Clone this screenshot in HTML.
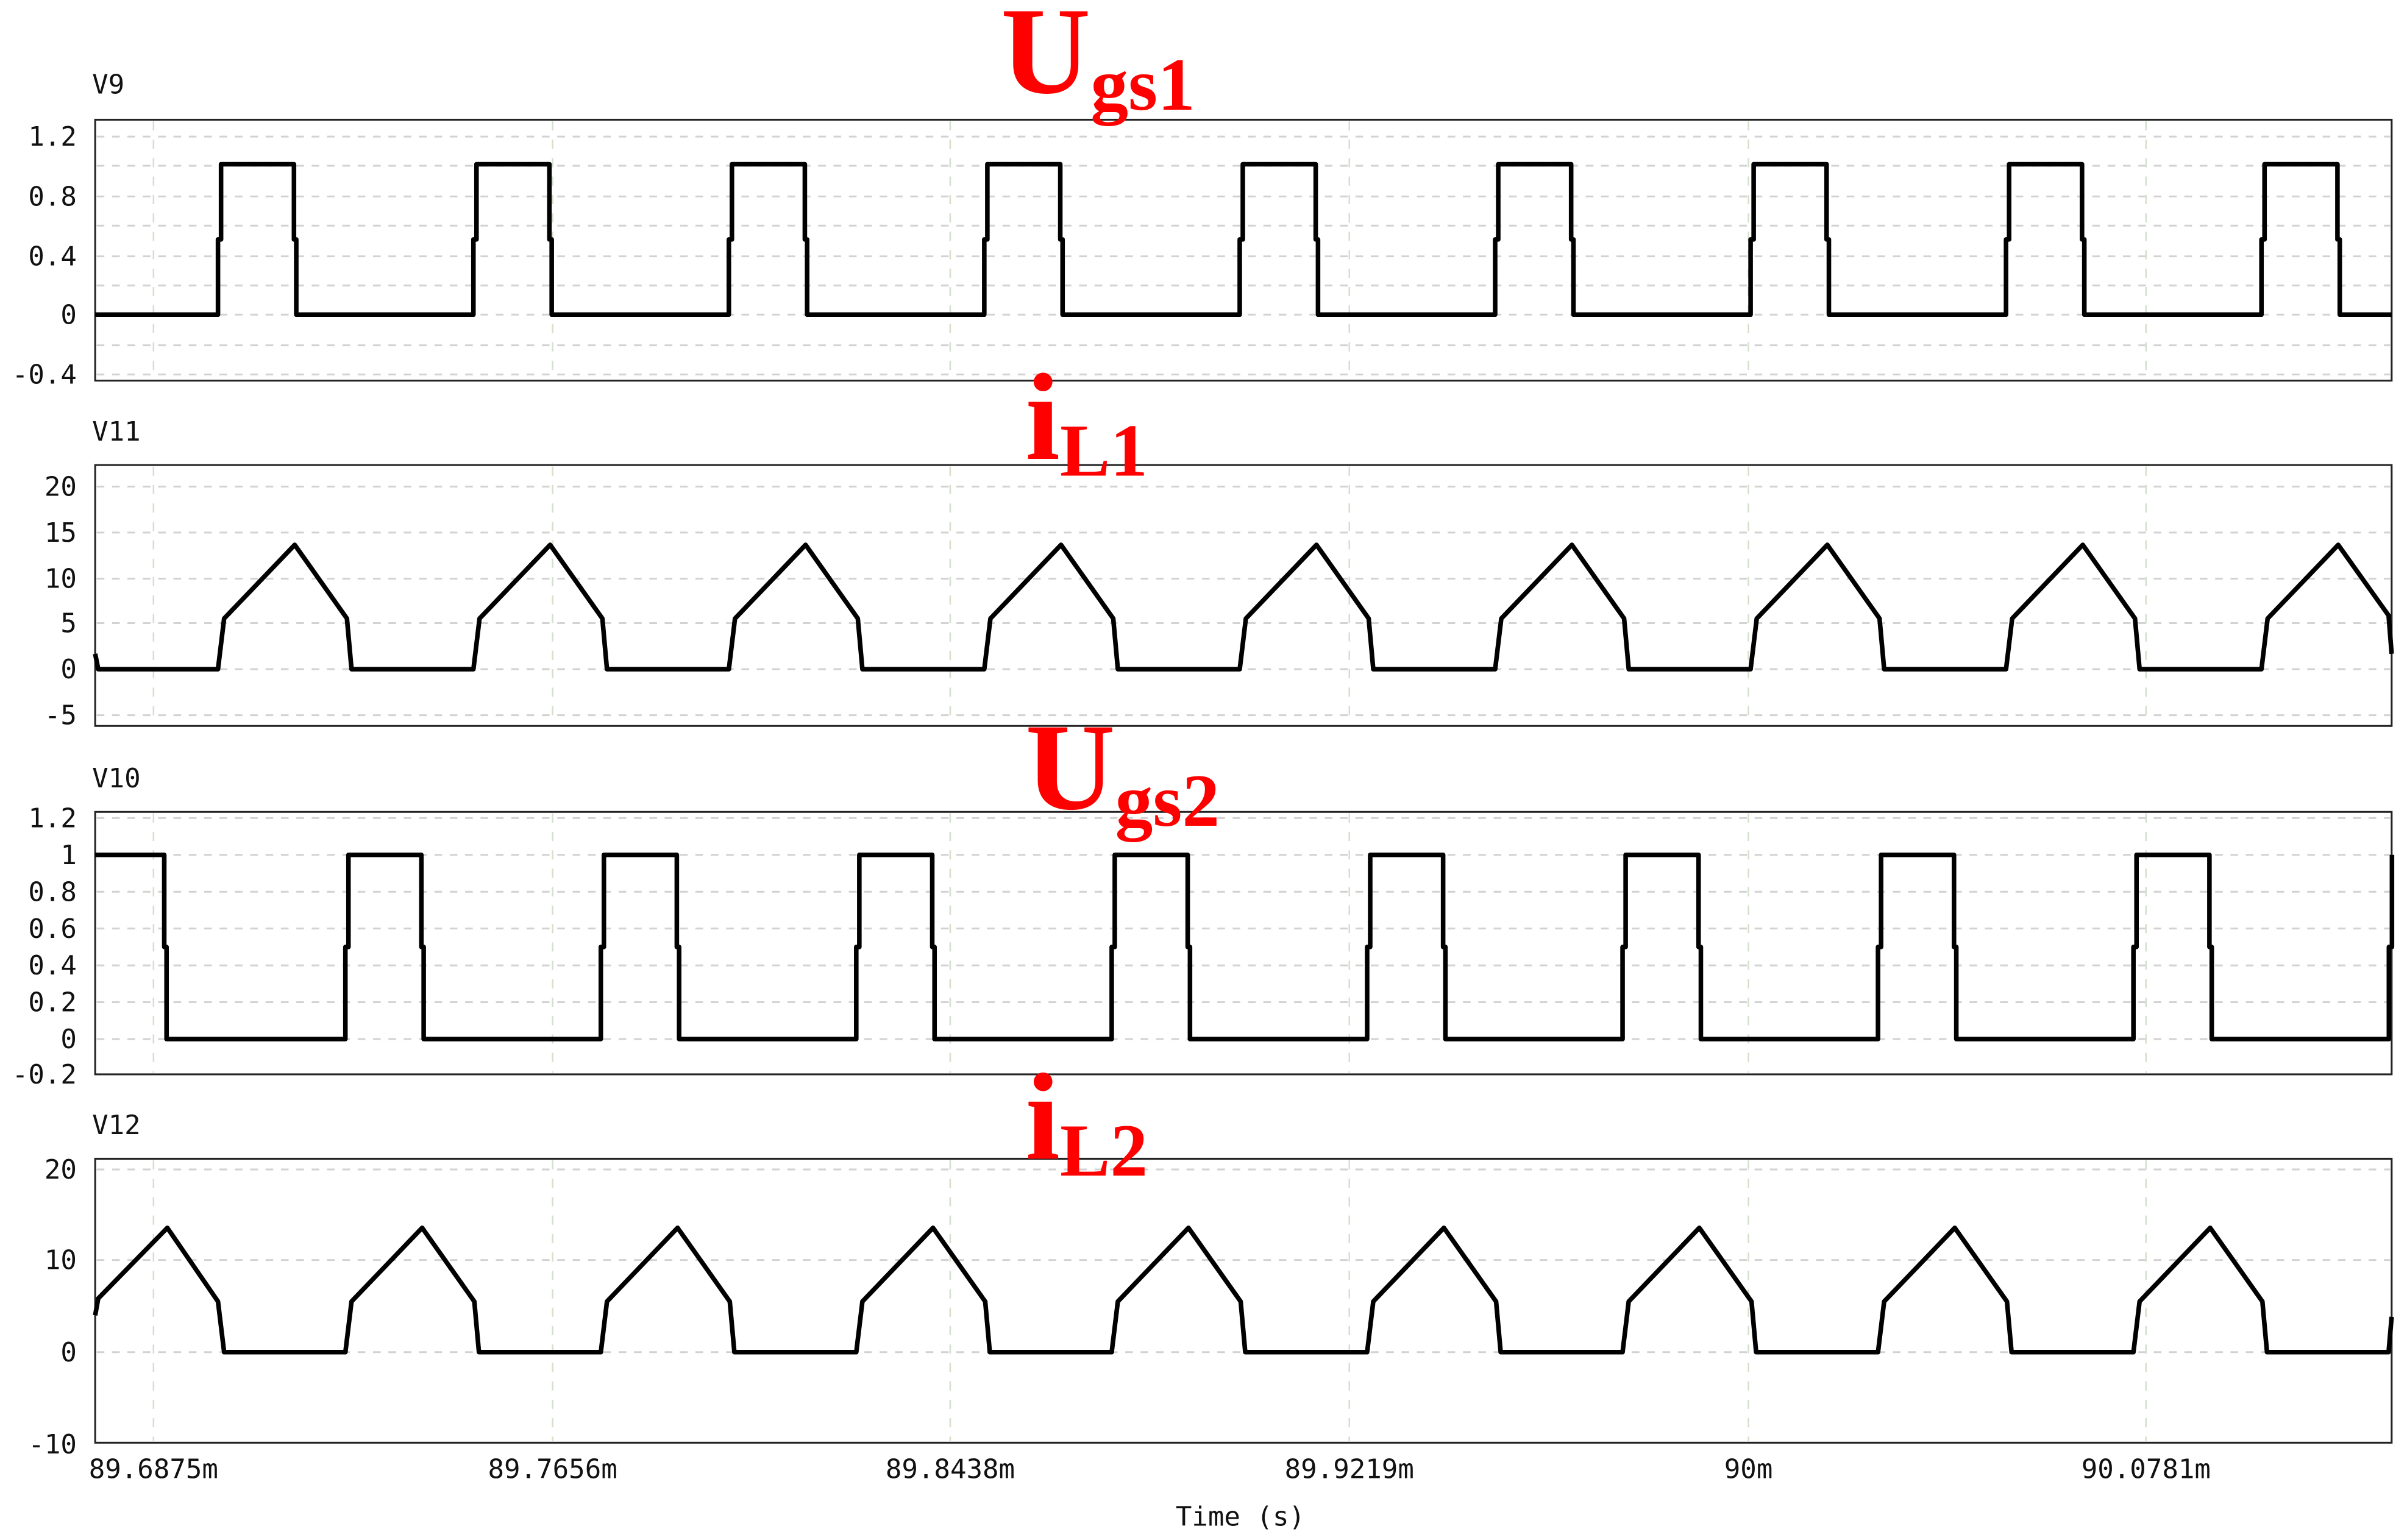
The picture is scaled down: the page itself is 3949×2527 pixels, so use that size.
<!DOCTYPE html>
<html><head><meta charset="utf-8">
<style>
html,body{margin:0;padding:0;background:#fff;}
svg{display:block;}
.ax{font-family:"DejaVu Sans Mono","Liberation Mono",monospace;font-size:17.5px;fill:#111;}
.red{font-family:"Liberation Serif",serif;font-weight:bold;fill:#f00;}
</style></head>
<body>
<svg id="s" width="3949" height="2527" viewBox="0 0 1568 1003.4" preserveAspectRatio="none" xmlns="http://www.w3.org/2000/svg">
<g id="grid"></g>
<g id="frames" fill="none" stroke="#222" stroke-width="1.2">
<rect x="62" y="78" width="1496" height="170"/>
<rect x="62" y="303" width="1496" height="170"/>
<rect x="62" y="529" width="1496" height="171"/>
<rect x="62" y="755" width="1496" height="185"/>
</g>
<g id="waves" fill="none" stroke="#000" stroke-width="3" stroke-linejoin="round"></g>
<g class="ax">
<text x="60" y="61">V9</text>
<text x="60" y="287">V11</text>
<text x="60" y="513">V10</text>
<text x="60" y="739">V12</text>
<g text-anchor="end">
<text x="50" y="95">1.2</text><text x="50" y="134">0.8</text><text x="50" y="173">0.4</text><text x="50" y="211">0</text><text x="50" y="250">-0.4</text>
<text x="50" y="323">20</text><text x="50" y="353">15</text><text x="50" y="383">10</text><text x="50" y="412">5</text><text x="50" y="442">0</text><text x="50" y="472">-5</text>
<text x="50" y="539">1.2</text><text x="50" y="563">1</text><text x="50" y="587">0.8</text><text x="50" y="611">0.6</text><text x="50" y="635">0.4</text><text x="50" y="659">0.2</text><text x="50" y="683">0</text><text x="50" y="706">-0.2</text>
<text x="50" y="768">20</text><text x="50" y="827">10</text><text x="50" y="887">0</text><text x="50" y="947">-10</text>
</g>
<g text-anchor="middle">
<text x="100" y="963">89.6875m</text><text x="360" y="963">89.7656m</text><text x="619" y="963">89.8438m</text><text x="879" y="963">89.9219m</text><text x="1139" y="963">90m</text><text x="1398" y="963">90.0781m</text>
<text x="808" y="994">Time (s)</text>
</g>
</g>
<g class="red">
<text x="652" y="60.4" font-size="81">U<tspan font-size="49" dy="11">gs1</tspan></text>
<text x="668" y="299" font-size="81">i<tspan font-size="49" dy="11">L1</tspan></text>
<text x="668" y="527" font-size="81">U<tspan font-size="49" dy="11">gs2</tspan></text>
<text x="668" y="755" font-size="81">i<tspan font-size="49" dy="11">L2</tspan></text>
</g>
</svg>
<script>
var NS="http://www.w3.org/2000/svg";
function el(p,t,a){var e=document.createElementNS(NS,t);for(var k in a)e.setAttribute(k,a[k]);document.getElementById(p).appendChild(e);}
var xs=[100,360,619,879,1139,1398];
var plots=[[78,248,[89,108,128,147,167,186,205,225,244]],[303,473,[317,347,377,406,436,466]],[529,700,[533,557,581,605,629,653,677]],[755,940,[762,821,881]]];
plots.forEach(function(p){
 p[2].forEach(function(y){el("grid","line",{x1:63,x2:1557,y1:y,y2:y,stroke:"#d2d2d2","stroke-width":1.2,"stroke-dasharray":"5,5"});});
 xs.forEach(function(x){el("grid","line",{x1:x,x2:x,y1:p[0]+1,y2:p[1]-1,stroke:"#d5e0cc","stroke-width":1,"stroke-dasharray":"6,6"});});
});
var T=166.4;
var d="M62,205";
for(var i=0;i<9;i++){var r=142+i*T;d+=" L"+r+",205 L"+r+",156 L"+(r+2)+",156 L"+(r+2)+",107";var f=r+49.5;if(f<1558)d+=" L"+f+",107 L"+f+",156 L"+(f+1.5)+",156 L"+(f+1.5)+",205";else d+=" L1558,107";}
d+=" L1558,205";
el("waves","path",{d:d});
d="M62,426 L64,436";
for(i=0;i<9;i++){var r=142+i*T;d+=" L"+r+",436 L"+(r+4)+",403 L"+(r+50)+",355";if(r+87<1560)d+=" L"+(r+84)+",403 L"+(r+87)+",436";else d+=" L1556,401 L1558,426";}
el("waves","path",{d:d});
d="M62,557 L107,557 L107,617 L108.5,617 L108.5,677";
for(i=0;i<9;i++){var r=225+i*T;d+=" L"+r+",677 L"+r+",617 L"+(r+2)+",617 L"+(r+2)+",557";var f=r+49.5;if(f<1558)d+=" L"+f+",557 L"+f+",617 L"+(f+1.5)+",617 L"+(f+1.5)+",677";}
el("waves","path",{d:d});
d="M62,857 L64,846 L109,800 L142,848 L146,881";
for(i=0;i<9;i++){var r=225+i*T;if(r>1550){d+=" L1556,881 L1558,858";break;}d+=" L"+r+",881 L"+(r+4)+",848 L"+(r+50)+",800";if(r+87<1560)d+=" L"+(r+84)+",848 L"+(r+87)+",881";}
el("waves","path",{d:d});
</script>
</body></html>
